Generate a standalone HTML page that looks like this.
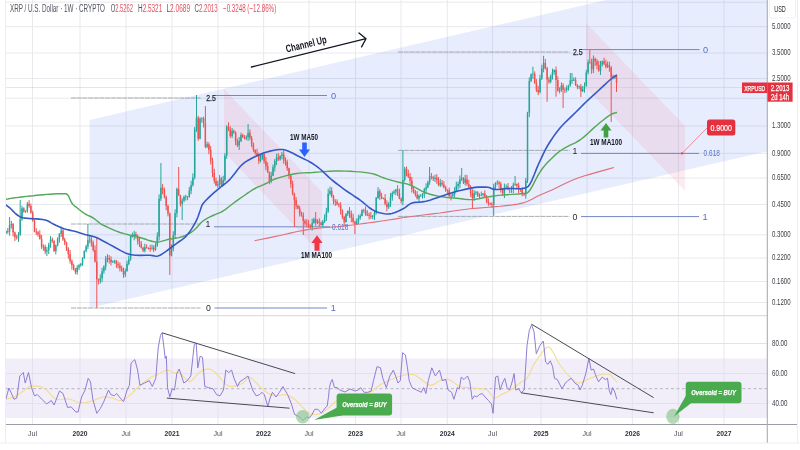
<!DOCTYPE html><html><head><meta charset="utf-8"><style>html,body{margin:0;padding:0;background:#fff;overflow:hidden}</style></head><body><svg width="800" height="450" viewBox="0 0 800 450" style="display:block;will-change:transform;font-family:'Liberation Sans', sans-serif">
<rect width="800" height="450" fill="#ffffff"/>
<path d="M32.5,0 V424.5 M80,0 V424.5 M126,0 V424.5 M172,0 V424.5 M218,0 V424.5 M263.6,0 V424.5 M309,0 V424.5 M355.5,0 V424.5 M401,0 V424.5 M447.3,0 V424.5 M492.6,0 V424.5 M541,0 V424.5 M587,0 V424.5 M632.4,0 V424.5 M678.4,0 V424.5 M724,0 V424.5 M5.5,2.2 H767.5 M5.5,26.7 H767.5 M5.5,53 H767.5 M5.5,78.5 H767.5 M5.5,98.2 H767.5 M5.5,126 H767.5 M5.5,153.3 H767.5 M5.5,178 H767.5 M5.5,204.5 H767.5 M5.5,234.8 H767.5 M5.5,258 H767.5 M5.5,281.5 H767.5 M5.5,302.5 H767.5 M5.5,343.5 H767.5 M5.5,373.5 H767.5 M5.5,403.5 H767.5" stroke="#e8e9ec" stroke-width="1" fill="none"/>
<polygon points="89.5,120 606,0 767,0 767,151.4 89.5,308" fill="rgba(50,95,245,0.115)"/>
<polygon points="224,89 322,192 322,255 224,152" fill="rgba(236,90,115,0.115)"/>
<polygon points="586,23 685,126 685,191 586,88" fill="rgba(236,90,115,0.115)"/>
<path d="M5.5,87.5 H767" stroke="#eeb1b8" stroke-width="0.9" stroke-dasharray="1,1" fill="none"/>
<path d="M71,98 H200.6" stroke="#8e9198" stroke-width="0.75" stroke-dasharray="5,0.7" fill="none"/>
<path d="M71,224 H200.6" stroke="#8e9198" stroke-width="0.75" stroke-dasharray="5,0.7" fill="none"/>
<path d="M71,308 H200.6" stroke="#8e9198" stroke-width="0.75" stroke-dasharray="5,0.7" fill="none"/>
<path d="M214.5,95.5 H327" stroke="#7287c4" stroke-width="1" fill="none"/>
<path d="M214,226.8 H330" stroke="#7287c4" stroke-width="1" fill="none"/>
<path d="M214.5,308 H327" stroke="#7287c4" stroke-width="1" fill="none"/>
<path d="M398,52 H569.6" stroke="#8e9198" stroke-width="0.75" stroke-dasharray="5,0.7" fill="none"/>
<path d="M398,150.4 H569.6" stroke="#8e9198" stroke-width="0.75" stroke-dasharray="5,0.7" fill="none"/>
<path d="M398,216.4 H569.6" stroke="#8e9198" stroke-width="0.75" stroke-dasharray="5,0.7" fill="none"/>
<path d="M582,49.6 H699.6" stroke="#7287c4" stroke-width="1" fill="none"/>
<path d="M581,153.4 H699" stroke="#7287c4" stroke-width="1" fill="none"/>
<path d="M581,216.6 H699" stroke="#7287c4" stroke-width="1" fill="none"/>
<path d="M6.0,230.4V234.0M9.6,217.0V235.7M11.3,220.8V228.7M18.5,232.1V242.0M20.2,200.0V235.8M22.0,205.6V220.8M25.6,210.2V212.9M27.4,202.0V212.7M43.4,244.3V250.7M46.9,246.9V256.0M48.7,242.8V254.0M50.5,236.1V247.7M55.8,244.5V254.5M57.6,237.3V246.4M59.4,233.0V242.7M61.2,226.5V237.0M77.2,265.2V274.7M79.0,263.9V270.1M80.8,263.1V266.8M82.5,257.3V265.8M84.3,250.3V258.8M86.1,244.7V252.4M87.9,224.0V249.1M89.7,236.0V243.3M100.3,274.3V283.6M102.1,267.8V282.1M103.9,265.3V273.8M105.7,255.9V270.2M107.5,254.2V262.3M112.8,260.3V262.9M114.6,259.8V263.6M125.3,268.5V277.0M127.0,260.6V271.8M128.8,255.7V265.3M130.6,235.4V260.8M132.4,232.5V237.6M134.2,230.8V240.3M144.8,243.7V252.4M152.0,244.6V250.1M155.5,243.1V250.7M157.3,232.3V246.8M159.1,194.4V240.6M160.9,163.0V201.1M171.5,244.4V256.4M173.3,231.3V251.3M175.1,209.3V238.4M176.9,187.6V217.4M182.2,198.3V220.0M184.0,195.6V202.4M185.8,194.7V200.6M189.3,186.9V197.7M191.1,180.7V194.1M192.9,173.3V186.6M194.7,127.0V179.5M196.5,95.0V131.8M200.0,117.2V139.4M201.8,117.4V122.7M207.1,141.7V148.0M217.8,180.9V187.8M219.6,175.1V187.4M223.2,175.7V186.2M224.9,153.0V181.7M226.7,125.2V158.8M232.1,128.0V138.1M239.2,137.0V150.0M241.0,132.7V142.2M246.3,135.4V140.1M248.1,124.0V140.9M260.5,154.4V162.4M262.3,152.6V159.9M271.2,171.7V183.2M273.0,164.5V176.2M274.8,159.0V171.5M276.6,153.7V165.0M280.1,155.2V160.6M281.9,152.0V159.3M312.2,218.7V230.5M313.9,217.6V223.7M317.5,219.3V224.2M322.8,219.9V227.2M324.6,214.3V223.0M326.4,207.8V221.0M328.2,188.7V212.8M330.0,186.7V195.6M346.0,212.9V222.7M347.8,210.4V216.1M356.7,218.5V224.9M358.4,214.8V224.0M360.2,213.9V219.8M362.0,209.2V216.4M367.3,210.1V216.1M372.7,215.0V219.2M374.5,210.7V219.9M376.2,196.9V214.7M378.0,187.2V198.8M383.4,197.6V199.3M388.7,202.0V208.9M390.5,193.0V206.8M392.3,191.4V200.7M394.0,189.8V194.6M395.8,188.9V195.1M402.9,150.0V205.4M404.7,166.8V181.5M419.0,194.5V202.2M420.7,194.3V196.5M422.5,193.1V198.5M424.3,187.7V198.2M426.1,183.4V194.0M427.9,180.7V188.2M429.6,167.0V184.8M435.0,174.7V182.0M440.3,178.9V186.9M452.8,191.8V197.4M454.6,187.2V197.5M456.3,181.6V191.9M458.1,181.6V189.8M459.9,175.5V188.1M461.7,168.0V181.1M465.2,174.8V185.6M474.1,190.1V201.0M475.9,190.9V195.0M479.5,193.4V198.6M481.3,191.6V196.2M483.0,193.0V196.5M493.7,183.7V216.0M495.5,182.1V190.0M497.3,180.4V184.9M504.4,183.5V198.1M506.2,184.4V188.7M509.7,187.6V193.0M513.3,182.5V193.1M515.1,176.0V185.8M525.8,177.9V198.7M527.5,111.8V183.0M529.3,77.4V117.1M531.1,73.3V82.2M532.9,66.7V79.0M540.0,74.8V93.4M541.8,64.8V80.0M543.6,55.8V72.3M550.7,74.5V83.3M552.5,68.6V79.6M554.2,69.4V74.7M559.6,87.3V93.5M561.4,82.4V91.9M566.7,85.4V92.3M568.5,84.7V90.6M570.3,73.0V86.7M572.0,73.0V83.9M573.8,77.4V81.1M579.2,85.5V89.2M582.7,86.0V92.0M584.5,82.4V92.7M586.3,69.8V86.5M588.1,59.7V74.4M593.4,55.4V73.0M600.5,60.9V74.9M602.3,60.5V66.4M607.6,61.5V67.9M614.8,75.8V78.9" stroke="#26a69a" stroke-width="1" fill="none"/>
<path d="M7.8,228.0V233.7M13.1,223.0V236.4M14.9,231.7V241.1M16.7,234.8V239.6M23.8,207.2V212.7M29.1,200.2V207.8M30.9,203.6V213.8M32.7,210.7V221.6M34.5,219.5V232.3M36.3,228.3V235.0M38.0,231.0V236.8M39.8,230.2V239.6M41.6,234.9V249.1M45.2,244.7V254.1M52.3,237.4V242.8M54.1,240.2V252.0M63.0,228.8V240.9M64.7,237.7V245.1M66.5,241.6V250.9M68.3,247.1V258.6M70.1,249.9V263.6M71.9,259.5V269.7M73.6,263.6V270.5M75.4,268.0V274.3M91.4,236.1V246.7M93.2,240.6V251.7M95.0,245.4V262.7M96.8,237.0V308.0M98.6,278.6V284.4M109.2,255.1V263.6M111.0,256.3V265.5M116.4,259.9V268.0M118.1,261.4V268.5M119.9,262.5V271.4M121.7,265.7V271.7M123.5,267.5V277.9M135.9,231.8V238.8M137.7,234.4V244.7M139.5,237.9V247.1M141.3,241.1V248.6M143.1,246.7V252.2M146.6,244.4V248.6M148.4,247.3V249.6M150.2,244.9V251.7M153.7,245.2V252.1M162.6,183.9V194.3M164.4,187.6V198.5M166.2,195.6V210.2M168.0,204.6V216.3M169.8,212.4V275.0M178.7,167.0V195.9M180.4,194.8V206.5M187.6,196.0V200.2M198.2,115.8V140.9M203.6,116.6V127.5M205.4,106.0V148.3M208.9,142.2V154.3M210.7,145.9V164.5M212.5,157.7V177.2M214.3,168.7V183.5M216.0,177.4V186.2M221.4,176.9V185.9M228.5,122.4V131.1M230.3,126.5V137.7M233.8,129.6V133.8M235.6,131.3V145.1M237.4,138.5V146.9M242.7,133.7V137.9M244.5,135.2V139.4M249.9,129.3V140.2M251.6,135.9V147.1M253.4,142.5V151.9M255.2,149.3V154.7M257.0,148.8V156.1M258.8,152.6V164.0M264.1,152.0V163.6M265.9,157.0V170.2M267.7,162.3V172.9M269.4,171.6V184.2M278.3,153.1V161.0M283.7,150.3V163.8M285.5,157.3V165.6M287.2,159.7V170.9M289.0,167.6V179.1M290.8,174.1V187.8M292.6,180.6V195.4M294.4,192.7V227.0M296.1,197.1V209.0M297.9,204.8V209.3M299.7,205.9V216.5M301.5,211.6V216.7M303.3,212.4V235.0M305.0,219.2V225.7M306.8,219.1V227.2M308.6,220.0V228.2M310.4,224.4V228.7M315.7,212.0V225.9M319.3,218.3V226.9M321.1,221.3V225.6M331.7,187.3V197.7M333.5,194.9V204.4M335.3,199.2V206.0M337.1,199.3V205.5M338.9,202.8V207.4M340.6,202.1V214.6M342.4,209.3V219.2M344.2,215.8V226.4M349.5,207.1V217.9M351.3,210.5V222.3M353.1,213.6V223.6M354.9,220.6V234.0M363.8,208.7V212.8M365.6,206.5V215.8M369.1,212.5V219.5M370.9,211.9V219.0M379.8,189.1V200.1M381.6,192.8V199.2M385.1,194.1V205.3M386.9,200.3V211.4M397.6,185.2V196.0M399.4,188.7V199.3M401.2,197.3V203.5M406.5,166.6V176.4M408.3,169.7V178.0M410.1,173.0V184.2M411.8,176.9V192.6M413.6,186.1V193.6M415.4,190.1V196.7M417.2,191.1V199.5M431.4,173.0V179.5M433.2,175.7V181.0M436.8,174.2V183.9M438.5,176.9V186.2M442.1,180.0V186.5M443.9,181.0V188.5M445.7,185.7V191.8M447.4,189.2V194.6M449.2,187.7V197.7M451.0,193.8V200.5M463.5,177.1V184.0M467.0,174.9V185.9M468.8,179.9V189.0M470.6,185.2V196.9M472.4,189.1V209.0M477.7,191.2V197.0M484.8,190.3V198.0M486.6,195.0V203.3M488.4,198.3V205.9M490.2,202.5V205.2M491.9,202.2V207.7M499.1,180.8V188.0M500.8,181.9V192.6M502.6,187.9V195.8M508.0,183.0V190.2M511.5,186.0V192.9M516.9,183.4V188.3M518.6,182.6V193.1M520.4,188.1V192.0M522.2,187.0V196.3M524.0,192.7V196.1M534.7,71.4V84.0M536.4,79.1V92.1M538.2,85.9V95.2M545.3,59.1V69.5M547.1,66.9V101.7M548.9,77.1V83.8M556.0,66.5V96.7M557.8,76.3V91.7M563.1,83.2V108.0M564.9,87.5V93.2M575.6,77.3V86.0M577.4,84.1V89.2M580.9,83.9V97.0M589.8,50.0V63.7M591.6,58.7V73.7M595.2,57.5V65.9M597.0,59.0V69.4M598.7,60.9V71.9M604.1,57.7V65.0M605.9,59.8V68.4M609.4,61.7V71.7M611.2,66.2V122.0M613.0,74.7V79.5M616.5,75.3V92.0" stroke="#ef5350" stroke-width="1" fill="none"/>
<path d="M5.25,231.3h1.5V233.3h-1.5ZM8.81,225.0h1.5V231.5h-1.5ZM10.59,223.9h1.5V225.0h-1.5ZM17.71,234.8h1.5V237.8h-1.5ZM19.49,219.3h1.5V234.8h-1.5ZM21.27,208.2h1.5V219.3h-1.5ZM24.83,210.9h1.5V211.7h-1.5ZM26.61,203.7h1.5V210.9h-1.5ZM42.63,246.8h1.5V247.6h-1.5ZM46.19,250.2h1.5V251.6h-1.5ZM47.97,244.7h1.5V250.2h-1.5ZM49.75,239.5h1.5V244.7h-1.5ZM55.09,245.2h1.5V251.0h-1.5ZM56.87,238.8h1.5V245.2h-1.5ZM58.65,233.8h1.5V238.8h-1.5ZM60.43,230.4h1.5V233.8h-1.5ZM76.45,267.6h1.5V272.2h-1.5ZM78.23,265.2h1.5V267.6h-1.5ZM80.01,263.7h1.5V265.2h-1.5ZM81.79,258.2h1.5V263.7h-1.5ZM83.57,251.0h1.5V258.2h-1.5ZM85.35,246.4h1.5V251.0h-1.5ZM87.13,240.2h1.5V246.4h-1.5ZM88.91,239.5h1.5V240.3h-1.5ZM99.59,278.3h1.5V280.6h-1.5ZM101.37,271.2h1.5V278.3h-1.5ZM103.15,266.4h1.5V271.2h-1.5ZM104.93,258.5h1.5V266.4h-1.5ZM106.71,257.9h1.5V258.7h-1.5ZM112.05,261.7h1.5V262.5h-1.5ZM113.83,260.8h1.5V261.7h-1.5ZM124.51,271.0h1.5V274.4h-1.5ZM126.29,263.8h1.5V271.0h-1.5ZM128.07,259.2h1.5V263.8h-1.5ZM129.85,236.2h1.5V259.2h-1.5ZM131.63,235.9h1.5V236.7h-1.5ZM133.41,234.3h1.5V235.9h-1.5ZM144.09,247.2h1.5V250.6h-1.5ZM151.21,247.8h1.5V248.6h-1.5ZM154.77,245.5h1.5V249.7h-1.5ZM156.55,236.4h1.5V245.5h-1.5ZM158.33,198.8h1.5V236.4h-1.5ZM160.11,187.7h1.5V198.8h-1.5ZM170.79,248.8h1.5V255.4h-1.5ZM172.57,235.1h1.5V248.8h-1.5ZM174.35,213.3h1.5V235.1h-1.5ZM176.13,189.1h1.5V213.3h-1.5ZM181.47,200.6h1.5V204.0h-1.5ZM183.25,196.7h1.5V200.6h-1.5ZM185.03,196.5h1.5V197.3h-1.5ZM188.59,190.7h1.5V196.7h-1.5ZM190.37,184.9h1.5V190.7h-1.5ZM192.15,177.4h1.5V184.9h-1.5ZM193.93,129.0h1.5V177.4h-1.5ZM195.71,117.8h1.5V129.0h-1.5ZM199.27,118.8h1.5V138.7h-1.5ZM201.05,118.3h1.5V119.1h-1.5ZM206.39,144.2h1.5V146.7h-1.5ZM217.07,184.3h1.5V185.5h-1.5ZM218.85,178.6h1.5V184.3h-1.5ZM222.41,179.9h1.5V185.2h-1.5ZM224.19,155.4h1.5V179.9h-1.5ZM225.97,126.8h1.5V155.4h-1.5ZM231.31,130.8h1.5V136.0h-1.5ZM238.43,141.1h1.5V145.5h-1.5ZM240.21,135.0h1.5V141.1h-1.5ZM245.55,136.9h1.5V138.5h-1.5ZM247.33,132.8h1.5V136.9h-1.5ZM259.79,158.4h1.5V161.0h-1.5ZM261.57,154.1h1.5V158.4h-1.5ZM270.47,175.7h1.5V180.9h-1.5ZM272.25,167.3h1.5V175.7h-1.5ZM274.03,161.1h1.5V167.3h-1.5ZM275.81,157.5h1.5V161.1h-1.5ZM279.37,156.1h1.5V159.5h-1.5ZM281.15,154.6h1.5V156.1h-1.5ZM311.41,223.1h1.5V227.2h-1.5ZM313.19,219.3h1.5V223.1h-1.5ZM316.75,221.5h1.5V222.7h-1.5ZM322.09,221.7h1.5V225.0h-1.5ZM323.87,217.5h1.5V221.7h-1.5ZM325.65,211.5h1.5V217.5h-1.5ZM327.43,193.8h1.5V211.5h-1.5ZM329.21,191.1h1.5V193.8h-1.5ZM345.23,214.0h1.5V222.0h-1.5ZM347.01,211.1h1.5V214.0h-1.5ZM355.91,221.9h1.5V224.2h-1.5ZM357.69,218.0h1.5V221.9h-1.5ZM359.47,215.9h1.5V218.0h-1.5ZM361.25,210.3h1.5V215.9h-1.5ZM366.59,214.5h1.5V215.3h-1.5ZM371.93,215.7h1.5V216.8h-1.5ZM373.71,212.7h1.5V215.7h-1.5ZM375.49,198.1h1.5V212.7h-1.5ZM377.27,191.3h1.5V198.1h-1.5ZM382.61,198.2h1.5V199.0h-1.5ZM387.95,203.9h1.5V207.3h-1.5ZM389.73,197.3h1.5V203.9h-1.5ZM391.51,193.0h1.5V197.3h-1.5ZM393.29,191.6h1.5V193.0h-1.5ZM395.07,189.4h1.5V191.6h-1.5ZM402.19,179.9h1.5V201.1h-1.5ZM403.97,168.8h1.5V179.9h-1.5ZM418.21,195.8h1.5V198.6h-1.5ZM419.99,195.7h1.5V196.5h-1.5ZM421.77,193.8h1.5V195.7h-1.5ZM423.55,189.5h1.5V193.8h-1.5ZM425.33,187.4h1.5V189.5h-1.5ZM427.11,182.3h1.5V187.4h-1.5ZM428.89,176.3h1.5V182.3h-1.5ZM434.23,177.7h1.5V178.8h-1.5ZM439.57,182.8h1.5V185.2h-1.5ZM452.03,194.3h1.5V196.0h-1.5ZM453.81,191.0h1.5V194.3h-1.5ZM455.59,186.1h1.5V191.0h-1.5ZM457.37,184.0h1.5V186.1h-1.5ZM459.15,179.4h1.5V184.0h-1.5ZM460.93,178.0h1.5V179.4h-1.5ZM464.49,179.2h1.5V182.7h-1.5ZM473.39,193.0h1.5V198.0h-1.5ZM475.17,192.3h1.5V193.1h-1.5ZM478.73,194.9h1.5V195.7h-1.5ZM480.51,194.7h1.5V195.5h-1.5ZM482.29,193.6h1.5V194.7h-1.5ZM492.97,186.7h1.5V205.0h-1.5ZM494.75,183.3h1.5V186.7h-1.5ZM496.53,182.5h1.5V183.3h-1.5ZM503.65,187.4h1.5V193.6h-1.5ZM505.43,186.4h1.5V187.4h-1.5ZM508.99,188.2h1.5V189.0h-1.5ZM512.55,184.7h1.5V189.1h-1.5ZM514.33,183.9h1.5V184.7h-1.5ZM525.01,180.5h1.5V194.5h-1.5ZM526.79,112.8h1.5V180.5h-1.5ZM528.57,81.1h1.5V112.8h-1.5ZM530.35,74.6h1.5V81.1h-1.5ZM532.13,73.8h1.5V74.6h-1.5ZM539.25,78.6h1.5V92.3h-1.5ZM541.03,68.4h1.5V78.6h-1.5ZM542.81,62.9h1.5V68.4h-1.5ZM549.93,75.5h1.5V81.8h-1.5ZM551.71,72.0h1.5V75.5h-1.5ZM553.49,70.1h1.5V72.0h-1.5ZM558.83,90.2h1.5V91.0h-1.5ZM560.61,85.4h1.5V90.2h-1.5ZM565.95,87.7h1.5V90.1h-1.5ZM567.73,85.3h1.5V87.7h-1.5ZM569.51,80.2h1.5V85.3h-1.5ZM571.29,79.9h1.5V80.7h-1.5ZM573.07,79.7h1.5V80.5h-1.5ZM578.41,86.4h1.5V87.2h-1.5ZM581.97,89.1h1.5V91.2h-1.5ZM583.75,85.8h1.5V89.1h-1.5ZM585.53,72.4h1.5V85.8h-1.5ZM587.31,62.2h1.5V72.4h-1.5ZM592.65,58.8h1.5V69.2h-1.5ZM599.77,64.5h1.5V70.7h-1.5ZM601.55,61.2h1.5V64.5h-1.5ZM606.89,65.3h1.5V66.8h-1.5ZM614.01,76.4h1.5V77.7h-1.5Z" fill="#26a69a"/>
<path d="M7.03,231.3h1.5V232.1h-1.5ZM12.37,223.9h1.5V232.5h-1.5ZM14.15,232.5h1.5V237.2h-1.5ZM15.93,237.2h1.5V238.0h-1.5ZM23.05,208.2h1.5V211.6h-1.5ZM28.39,203.7h1.5V206.1h-1.5ZM30.17,206.1h1.5V212.6h-1.5ZM31.95,212.6h1.5V221.0h-1.5ZM33.73,221.0h1.5V231.8h-1.5ZM35.51,231.8h1.5V232.6h-1.5ZM37.29,232.3h1.5V234.4h-1.5ZM39.07,234.4h1.5V238.7h-1.5ZM40.85,238.7h1.5V246.9h-1.5ZM44.41,246.8h1.5V251.6h-1.5ZM51.53,239.5h1.5V240.9h-1.5ZM53.31,240.9h1.5V251.0h-1.5ZM62.21,230.4h1.5V239.4h-1.5ZM63.99,239.4h1.5V242.7h-1.5ZM65.77,242.7h1.5V248.6h-1.5ZM67.55,248.6h1.5V254.3h-1.5ZM69.33,254.3h1.5V261.0h-1.5ZM71.11,261.0h1.5V265.3h-1.5ZM72.89,265.3h1.5V268.5h-1.5ZM74.67,268.5h1.5V272.2h-1.5ZM90.69,239.5h1.5V242.7h-1.5ZM92.47,242.7h1.5V249.9h-1.5ZM94.25,249.9h1.5V261.6h-1.5ZM96.03,261.6h1.5V279.2h-1.5ZM97.81,279.2h1.5V280.6h-1.5ZM108.49,257.9h1.5V259.5h-1.5ZM110.27,259.5h1.5V262.3h-1.5ZM115.61,260.8h1.5V264.1h-1.5ZM117.39,264.1h1.5V265.5h-1.5ZM119.17,265.5h1.5V268.2h-1.5ZM120.95,268.2h1.5V271.2h-1.5ZM122.73,271.2h1.5V274.4h-1.5ZM135.19,234.3h1.5V236.8h-1.5ZM136.97,236.8h1.5V241.4h-1.5ZM138.75,241.4h1.5V244.1h-1.5ZM140.53,244.1h1.5V247.8h-1.5ZM142.31,247.8h1.5V250.6h-1.5ZM145.87,247.2h1.5V248.0h-1.5ZM147.65,248.0h1.5V248.8h-1.5ZM149.43,248.1h1.5V248.9h-1.5ZM152.99,247.8h1.5V249.7h-1.5ZM161.89,187.7h1.5V189.9h-1.5ZM163.67,189.9h1.5V196.9h-1.5ZM165.45,196.9h1.5V205.9h-1.5ZM167.23,205.9h1.5V213.5h-1.5ZM169.01,213.5h1.5V255.4h-1.5ZM177.91,189.1h1.5V195.3h-1.5ZM179.69,195.3h1.5V204.0h-1.5ZM186.81,196.5h1.5V197.3h-1.5ZM197.49,117.8h1.5V138.7h-1.5ZM202.83,118.3h1.5V123.3h-1.5ZM204.61,123.3h1.5V146.7h-1.5ZM208.17,144.2h1.5V150.0h-1.5ZM209.95,150.0h1.5V160.7h-1.5ZM211.73,160.7h1.5V173.0h-1.5ZM213.51,173.0h1.5V180.8h-1.5ZM215.29,180.8h1.5V185.5h-1.5ZM220.63,178.6h1.5V185.2h-1.5ZM227.75,126.8h1.5V129.6h-1.5ZM229.53,129.6h1.5V136.0h-1.5ZM233.09,130.8h1.5V132.6h-1.5ZM234.87,132.6h1.5V140.9h-1.5ZM236.65,140.9h1.5V145.5h-1.5ZM241.99,135.0h1.5V137.0h-1.5ZM243.77,137.0h1.5V138.5h-1.5ZM249.11,132.8h1.5V138.0h-1.5ZM250.89,138.0h1.5V144.5h-1.5ZM252.67,144.5h1.5V150.1h-1.5ZM254.45,150.1h1.5V153.1h-1.5ZM256.23,153.1h1.5V155.1h-1.5ZM258.01,155.1h1.5V161.0h-1.5ZM263.35,154.1h1.5V161.3h-1.5ZM265.13,161.3h1.5V166.3h-1.5ZM266.91,166.3h1.5V172.3h-1.5ZM268.69,172.3h1.5V180.9h-1.5ZM277.59,157.5h1.5V159.5h-1.5ZM282.93,154.6h1.5V160.4h-1.5ZM284.71,160.4h1.5V162.0h-1.5ZM286.49,162.0h1.5V168.2h-1.5ZM288.27,168.2h1.5V175.5h-1.5ZM290.05,175.5h1.5V183.7h-1.5ZM291.83,183.7h1.5V193.7h-1.5ZM293.61,193.7h1.5V200.1h-1.5ZM295.39,200.1h1.5V205.7h-1.5ZM297.17,205.7h1.5V208.5h-1.5ZM298.95,208.5h1.5V213.6h-1.5ZM300.73,213.6h1.5V215.4h-1.5ZM302.51,215.4h1.5V220.9h-1.5ZM304.29,220.9h1.5V223.4h-1.5ZM306.07,223.4h1.5V224.2h-1.5ZM307.85,224.1h1.5V225.8h-1.5ZM309.63,225.8h1.5V227.2h-1.5ZM314.97,219.3h1.5V222.7h-1.5ZM318.53,221.5h1.5V222.7h-1.5ZM320.31,222.7h1.5V225.0h-1.5ZM330.99,191.1h1.5V196.3h-1.5ZM332.77,196.3h1.5V200.9h-1.5ZM334.55,200.9h1.5V201.7h-1.5ZM336.33,201.7h1.5V204.2h-1.5ZM338.11,204.2h1.5V205.2h-1.5ZM339.89,205.2h1.5V210.3h-1.5ZM341.67,210.3h1.5V217.1h-1.5ZM343.45,217.1h1.5V222.0h-1.5ZM348.79,211.1h1.5V213.9h-1.5ZM350.57,213.9h1.5V217.8h-1.5ZM352.35,217.8h1.5V221.8h-1.5ZM354.13,221.8h1.5V224.2h-1.5ZM363.03,210.3h1.5V211.1h-1.5ZM364.81,210.9h1.5V214.8h-1.5ZM368.37,214.5h1.5V215.7h-1.5ZM370.15,215.7h1.5V216.8h-1.5ZM379.05,191.3h1.5V196.4h-1.5ZM380.83,196.4h1.5V198.5h-1.5ZM384.39,198.2h1.5V203.8h-1.5ZM386.17,203.8h1.5V207.3h-1.5ZM396.85,189.4h1.5V193.0h-1.5ZM398.63,193.0h1.5V198.7h-1.5ZM400.41,198.7h1.5V201.1h-1.5ZM405.75,168.8h1.5V173.9h-1.5ZM407.53,173.9h1.5V176.7h-1.5ZM409.31,176.7h1.5V180.7h-1.5ZM411.09,180.7h1.5V189.0h-1.5ZM412.87,189.0h1.5V191.8h-1.5ZM414.65,191.8h1.5V194.7h-1.5ZM416.43,194.7h1.5V198.6h-1.5ZM430.67,176.3h1.5V177.2h-1.5ZM432.45,177.2h1.5V178.8h-1.5ZM436.01,177.7h1.5V180.0h-1.5ZM437.79,180.0h1.5V185.2h-1.5ZM441.35,182.8h1.5V184.5h-1.5ZM443.13,184.5h1.5V187.2h-1.5ZM444.91,187.2h1.5V190.3h-1.5ZM446.69,190.3h1.5V191.1h-1.5ZM448.47,190.6h1.5V195.9h-1.5ZM450.25,195.9h1.5V196.7h-1.5ZM462.71,178.0h1.5V182.7h-1.5ZM466.27,179.2h1.5V183.9h-1.5ZM468.05,183.9h1.5V186.7h-1.5ZM469.83,186.7h1.5V193.3h-1.5ZM471.61,193.3h1.5V198.0h-1.5ZM476.95,192.3h1.5V195.7h-1.5ZM484.07,193.6h1.5V196.7h-1.5ZM485.85,196.7h1.5V202.0h-1.5ZM487.63,202.0h1.5V203.2h-1.5ZM489.41,203.2h1.5V204.2h-1.5ZM491.19,204.2h1.5V205.0h-1.5ZM498.31,182.5h1.5V183.7h-1.5ZM500.09,183.7h1.5V189.8h-1.5ZM501.87,189.8h1.5V193.6h-1.5ZM507.21,186.4h1.5V188.9h-1.5ZM510.77,188.2h1.5V189.1h-1.5ZM516.11,183.9h1.5V185.6h-1.5ZM517.89,185.6h1.5V189.0h-1.5ZM519.67,189.0h1.5V189.8h-1.5ZM521.45,189.0h1.5V193.8h-1.5ZM523.23,193.8h1.5V194.6h-1.5ZM533.91,73.8h1.5V83.3h-1.5ZM535.69,83.3h1.5V90.0h-1.5ZM537.47,90.0h1.5V92.3h-1.5ZM544.59,62.9h1.5V68.3h-1.5ZM546.37,68.3h1.5V79.7h-1.5ZM548.15,79.7h1.5V81.8h-1.5ZM555.27,70.1h1.5V80.1h-1.5ZM557.05,80.1h1.5V90.8h-1.5ZM562.39,85.4h1.5V89.7h-1.5ZM564.17,89.7h1.5V90.5h-1.5ZM574.85,79.7h1.5V85.1h-1.5ZM576.63,85.1h1.5V87.0h-1.5ZM580.19,86.4h1.5V91.2h-1.5ZM589.09,62.2h1.5V63.0h-1.5ZM590.87,62.6h1.5V69.2h-1.5ZM594.43,58.8h1.5V61.5h-1.5ZM596.21,61.5h1.5V65.1h-1.5ZM597.99,65.1h1.5V70.7h-1.5ZM603.33,61.2h1.5V63.8h-1.5ZM605.11,63.8h1.5V66.8h-1.5ZM608.67,65.3h1.5V67.5h-1.5ZM610.45,67.5h1.5V77.2h-1.5ZM612.23,77.2h1.5V78.0h-1.5ZM615.79,76.4h1.5V82.4h-1.5Z" fill="#ef5350"/>
<path d="M254.5,240.8 L259.2,239.8 L266.0,238.4 L273.4,236.9 L280.0,235.5 L285.4,234.3 L290.3,233.1 L295.1,232.0 L300.0,231.0 L305.0,230.1 L310.0,229.3 L315.0,228.6 L320.0,228.0 L325.0,227.5 L330.0,227.2 L335.0,226.9 L340.0,226.5 L345.0,225.9 L350.0,225.3 L355.0,224.7 L360.0,224.0 L364.8,223.4 L369.4,222.8 L374.3,222.1 L380.0,221.3 L386.8,220.3 L394.4,219.1 L402.3,217.8 L410.0,216.7 L417.5,215.7 L425.0,214.8 L432.5,213.9 L440.0,213.0 L447.5,211.9 L455.0,210.8 L462.5,209.7 L470.0,208.8 L477.7,208.1 L485.4,207.5 L493.0,206.9 L500.0,206.3 L506.4,205.6 L512.3,204.9 L517.8,204.1 L523.0,202.9 L527.7,201.2 L532.0,199.2 L536.0,197.1 L540.0,195.1 L543.7,193.5 L547.1,192.0 L550.7,190.4 L555.0,188.5 L559.9,186.1 L565.2,183.5 L571.1,180.7 L578.0,178.0 L586.9,175.1 L597.4,172.1 L607.2,169.4 L614.0,167.5" stroke="#e0707a" stroke-width="1.1" fill="none"/>
<path d="M6.0,199.3 L7.2,199.1 L8.8,198.8 L10.9,198.4 L13.3,198.0 L16.2,197.6 L19.6,197.2 L23.2,196.8 L26.7,196.4 L30.0,196.0 L33.4,195.7 L36.7,195.3 L40.0,195.0 L43.4,194.7 L46.8,194.4 L50.2,194.2 L53.3,194.0 L56.3,193.8 L59.2,193.7 L61.9,193.6 L64.0,193.7 L65.5,193.8 L66.4,194.0 L67.2,194.4 L68.0,195.3 L69.0,196.9 L69.9,199.1 L70.9,201.4 L72.0,203.3 L73.2,204.7 L74.4,205.8 L75.8,206.8 L77.3,208.0 L79.1,209.5 L81.1,211.0 L83.2,212.6 L85.3,214.0 L87.3,215.1 L89.4,216.0 L91.4,217.0 L93.3,218.0 L95.1,219.3 L96.8,220.7 L98.5,222.1 L100.0,223.3 L101.1,224.1 L102.0,224.6 L103.1,225.1 L105.0,226.0 L107.9,227.4 L111.6,229.1 L115.7,230.9 L120.0,232.5 L124.9,233.9 L130.3,235.2 L135.6,236.4 L140.0,237.5 L143.2,238.5 L145.8,239.3 L147.9,240.1 L150.0,240.7 L152.1,241.3 L154.0,241.7 L155.9,242.0 L158.0,242.0 L160.4,241.6 L163.0,240.9 L165.8,240.1 L168.7,239.3 L171.9,238.7 L175.3,238.2 L178.8,237.6 L182.0,236.7 L184.9,235.6 L187.7,234.3 L190.4,232.8 L193.0,231.0 L195.6,228.7 L198.1,226.0 L200.5,223.3 L203.0,221.0 L205.5,219.3 L208.0,217.9 L210.5,216.7 L213.0,215.5 L215.5,214.4 L218.0,213.4 L220.5,212.3 L223.0,211.0 L225.5,209.4 L227.9,207.5 L230.4,205.5 L233.0,203.5 L235.9,201.4 L239.0,199.2 L242.1,197.0 L245.0,195.0 L247.6,193.2 L250.1,191.5 L252.5,189.9 L255.0,188.5 L257.5,187.2 L260.0,186.2 L262.5,185.1 L265.0,184.0 L267.3,182.8 L269.4,181.5 L271.8,180.3 L275.0,179.0 L279.4,177.6 L284.5,176.1 L289.9,174.7 L295.0,173.7 L299.4,173.1 L303.6,172.9 L307.8,172.7 L312.5,172.5 L317.8,172.1 L323.6,171.6 L329.4,171.2 L335.0,171.0 L340.2,171.0 L345.3,171.1 L350.3,171.3 L355.0,171.6 L359.6,171.9 L364.0,172.4 L368.2,172.9 L372.0,173.6 L375.3,174.5 L378.2,175.7 L381.0,176.9 L384.0,178.0 L387.4,179.1 L391.0,180.1 L394.6,181.1 L398.0,182.0 L401.0,182.7 L403.9,183.3 L406.8,183.9 L410.0,185.0 L413.7,186.7 L417.8,188.9 L421.9,191.1 L426.0,192.9 L430.0,194.2 L434.1,195.3 L438.1,196.1 L442.0,196.8 L445.8,197.3 L449.6,197.7 L453.3,198.0 L457.0,198.3 L460.8,198.7 L464.6,199.2 L468.4,199.5 L472.0,199.6 L475.4,199.3 L478.7,198.7 L482.0,198.0 L485.5,197.4 L489.1,196.8 L492.7,196.2 L496.6,195.6 L501.0,195.1 L506.4,194.7 L512.5,194.4 L518.4,194.0 L523.0,193.5 L525.7,193.2 L527.1,193.0 L528.2,192.2 L530.0,190.0 L532.5,185.9 L535.3,180.4 L538.5,174.4 L542.0,169.0 L546.0,164.1 L550.5,159.4 L555.2,154.9 L560.0,151.0 L565.0,147.8 L570.1,145.2 L575.2,142.8 L580.0,140.0 L584.3,136.6 L588.4,133.0 L592.2,129.4 L596.0,126.0 L599.8,122.8 L603.6,119.8 L607.0,117.1 L610.0,115.0 L612.4,113.7 L614.4,113.0 L615.9,112.7 L617.0,112.4" stroke="#55a857" stroke-width="1.45" fill="none" stroke-linejoin="round"/>
<path d="M5.6,204.7 L6.5,205.4 L7.8,206.4 L9.3,207.5 L10.7,208.7 L12.0,210.0 L13.3,211.4 L14.7,212.8 L16.0,214.0 L17.3,215.0 L18.6,215.9 L20.0,216.7 L21.3,217.3 L22.6,217.7 L23.9,218.0 L25.3,218.1 L26.7,218.3 L28.1,218.4 L29.6,218.5 L31.2,218.6 L33.3,218.7 L36.0,218.9 L39.2,219.1 L42.5,219.5 L45.3,220.0 L47.5,220.8 L49.4,221.8 L51.2,222.9 L53.3,224.0 L55.8,225.2 L58.5,226.4 L61.3,227.7 L64.0,228.7 L66.7,229.5 L69.4,230.1 L72.1,230.7 L74.7,231.3 L77.3,232.1 L80.0,232.9 L82.6,233.8 L85.0,234.5 L87.3,235.1 L89.4,235.5 L91.4,236.0 L93.3,236.5 L95.0,237.1 L96.4,237.6 L98.0,238.3 L100.0,239.3 L102.6,240.7 L105.6,242.3 L108.9,244.1 L112.5,246.0 L116.5,248.2 L120.8,250.6 L125.3,252.9 L130.0,254.5 L135.1,255.2 L140.6,255.4 L145.8,255.3 L150.0,255.3 L152.8,255.6 L154.8,256.0 L156.3,256.2 L158.0,256.0 L159.9,255.3 L161.8,254.2 L163.8,252.8 L166.0,251.3 L168.5,249.5 L171.2,247.5 L174.0,245.4 L176.7,243.3 L179.3,241.5 L181.8,239.8 L184.3,237.9 L186.7,235.6 L189.1,232.6 L191.5,229.1 L193.7,225.5 L195.6,222.2 L197.0,219.2 L198.2,216.2 L199.1,213.5 L200.0,211.0 L200.7,208.9 L201.3,207.1 L202.0,205.3 L203.3,203.3 L205.5,200.8 L208.4,197.9 L211.3,195.1 L214.0,192.7 L216.2,190.8 L218.2,189.1 L220.1,187.6 L222.0,186.0 L223.9,184.5 L225.8,183.1 L227.8,181.4 L230.0,179.3 L232.5,176.3 L235.3,172.7 L238.1,169.0 L240.7,166.0 L243.0,163.9 L245.1,162.2 L247.3,160.8 L250.0,159.3 L253.3,157.5 L257.1,155.7 L261.1,153.9 L265.0,152.5 L268.9,151.4 L272.9,150.5 L276.7,149.8 L280.0,149.5 L282.4,149.5 L284.2,149.7 L285.9,150.2 L288.0,151.0 L290.8,152.2 L293.9,153.8 L297.0,155.5 L300.0,157.0 L302.6,158.3 L305.1,159.4 L307.5,160.6 L310.0,162.0 L312.5,163.5 L314.9,165.1 L317.4,166.9 L320.0,169.0 L322.8,171.4 L325.6,174.2 L328.7,177.1 L332.0,180.0 L335.8,183.0 L340.0,186.2 L344.2,189.3 L348.0,192.0 L351.3,194.2 L354.2,196.2 L357.1,198.0 L360.0,200.0 L363.0,202.4 L366.1,205.0 L369.1,207.5 L372.0,209.5 L374.6,210.9 L377.1,212.0 L379.5,212.7 L382.0,213.3 L384.5,213.7 L386.9,214.0 L389.4,213.9 L392.0,213.5 L395.0,212.6 L398.1,211.2 L401.2,209.7 L404.0,208.3 L406.1,206.9 L407.9,205.4 L409.7,204.1 L412.0,203.0 L415.0,202.4 L418.5,202.2 L422.2,201.9 L426.0,201.3 L429.9,200.2 L433.9,198.8 L438.0,197.4 L442.0,196.0 L445.8,194.8 L449.4,193.6 L453.1,192.4 L457.0,191.3 L461.4,190.2 L466.1,189.1 L470.8,188.1 L475.0,187.4 L478.7,187.1 L482.2,187.0 L485.3,187.1 L488.0,187.3 L490.0,187.8 L491.4,188.5 L492.9,189.1 L495.0,189.5 L498.0,189.5 L501.6,189.1 L505.4,188.8 L509.0,188.5 L512.6,188.5 L516.2,188.7 L519.6,188.8 L522.5,188.5 L524.8,188.1 L526.5,187.6 L528.2,186.4 L530.0,184.0 L532.1,179.8 L534.4,174.3 L536.7,168.4 L539.0,163.0 L541.2,158.3 L543.3,153.8 L545.5,149.4 L548.0,145.0 L550.7,140.7 L553.6,136.4 L556.6,132.2 L560.0,128.0 L563.9,123.8 L568.1,119.6 L572.3,115.6 L576.0,112.0 L578.9,109.1 L581.2,106.7 L583.5,104.4 L586.0,102.0 L588.8,99.3 L591.8,96.6 L594.9,93.8 L598.0,91.0 L601.3,87.9 L604.9,84.6 L608.2,81.5 L611.0,79.0 L613.1,77.3 L614.8,76.2 L616.1,75.5 L617.0,75.0" stroke="#3559c4" stroke-width="1.6" fill="none" stroke-linejoin="round"/>
<text x="206.2" y="101.2" font-size="8.7" fill="#1e222d" text-anchor="start" font-weight="normal" textLength="9.6" lengthAdjust="spacingAndGlyphs" stroke="#1e222d" stroke-width="0.25" style="">2.5</text>
<text x="208" y="227.1" font-size="8.7" fill="#1e222d" text-anchor="middle" font-weight="normal"  style="">1</text>
<text x="208.5" y="311.1" font-size="8.7" fill="#1e222d" text-anchor="middle" font-weight="normal"  style="">0</text>
<text x="333.6" y="98.8" font-size="9.2" fill="#5670c4" text-anchor="middle" font-weight="normal"  style="">0</text>
<text x="332" y="230.2" font-size="9.2" fill="#5670c4" text-anchor="start" font-weight="normal" textLength="16.3" lengthAdjust="spacingAndGlyphs"  style="">0.618</text>
<text x="333.4" y="311.3" font-size="9.2" fill="#5670c4" text-anchor="middle" font-weight="normal"  style="">1</text>
<text x="573" y="55.2" font-size="8.7" fill="#1e222d" text-anchor="start" font-weight="normal" textLength="9.6" lengthAdjust="spacingAndGlyphs" stroke="#1e222d" stroke-width="0.25" style="">2.5</text>
<text x="575" y="153.5" font-size="8.7" fill="#1e222d" text-anchor="middle" font-weight="normal"  style="">1</text>
<text x="575" y="219.7" font-size="8.7" fill="#1e222d" text-anchor="middle" font-weight="normal"  style="">0</text>
<text x="705.6" y="52.9" font-size="9.2" fill="#5670c4" text-anchor="middle" font-weight="normal"  style="">0</text>
<text x="703.6" y="155.5" font-size="9.2" fill="#5670c4" text-anchor="start" font-weight="normal" textLength="16.3" lengthAdjust="spacingAndGlyphs"  style="">0.618</text>
<text x="705" y="219.9" font-size="9.2" fill="#5670c4" text-anchor="middle" font-weight="normal"  style="">1</text>
<path d="M251.4,67 L366,38.7 M359,32.9 L366,38.7 L361.6,46.9" stroke="#131722" stroke-width="1.3" fill="none" stroke-linecap="round" stroke-linejoin="round"/>
<text x="0" y="0" font-size="10.5" font-weight="bold" fill="#131722" transform="translate(286.8,52.6) rotate(-13.8)" textLength="41.5" lengthAdjust="spacingAndGlyphs">Channel Up</text>
<text x="304" y="139.8" font-size="9" fill="#131722" text-anchor="middle" font-weight="bold" textLength="28" lengthAdjust="spacingAndGlyphs"  style="">1W MA50</text>
<path d="M302.2,142.5 h4.6 v7 h3.2 l-5.5,7.5 l-5.5,-7.5 h3.2 z" fill="#2962ff"/>
<path d="M317,235.2 l5.6,7.8 h-3.1 v7.8 h-5 v-7.8 h-3.1 z" fill="#f23645"/>
<text x="316.5" y="258.4" font-size="9" fill="#131722" text-anchor="middle" font-weight="bold" textLength="31" lengthAdjust="spacingAndGlyphs"  style="">1M MA100</text>
<path d="M606,123 l5.5,7.5 h-3.2 v7 h-4.6 v-7 h-3.2 z" fill="#43a047"/>
<text x="606" y="144.8" font-size="9" fill="#131722" text-anchor="middle" font-weight="bold" textLength="32" lengthAdjust="spacingAndGlyphs"  style="">1W MA100</text>
<path d="M682,153.4 L707,128" stroke="#e8808c" stroke-width="0.9" fill="none"/>
<circle cx="682" cy="153.4" r="1.1" fill="#e5414f"/>
<rect x="707" y="119.5" width="28.3" height="16" rx="2.5" fill="#e5303f"/>
<text x="721.2" y="130.8" font-size="9" fill="#ffffff" text-anchor="middle" font-weight="normal" textLength="21.5" lengthAdjust="spacingAndGlyphs" stroke="#fff" stroke-width="0.2" style="">0.9000</text>
<rect x="5.5" y="358.5" width="762" height="59.5" fill="#f1eefa"/>
<path d="M32.5,358.5 V418 M80,358.5 V418 M126,358.5 V418 M172,358.5 V418 M218,358.5 V418 M263.6,358.5 V418 M309,358.5 V418 M355.5,358.5 V418 M401,358.5 V418 M447.3,358.5 V418 M492.6,358.5 V418 M541,358.5 V418 M587,358.5 V418 M632.4,358.5 V418 M678.4,358.5 V418 M724,358.5 V418 M5.5,343.5 H767.5 M5.5,373.5 H767.5 M5.5,403.5 H767.5" stroke="#e4e1ee" stroke-width="1" fill="none"/>
<path d="M5.5,388.7 H767" stroke="#a8a6b3" stroke-width="0.8" stroke-dasharray="3,2.5" fill="none"/>
<path d="M5.8,399.3 L7.9,398.8 L10.9,398.1 L14.0,397.0 L17.1,395.2 L20.3,393.0 L23.3,391.0 L25.7,389.2 L27.9,387.6 L30.3,386.5 L33.3,386.0 L36.6,386.1 L39.6,386.5 L42.0,387.2 L44.2,388.3 L46.6,390.0 L49.5,393.0 L52.6,396.7 L56.0,399.3 L59.6,399.7 L63.5,399.0 L67.6,398.8 L72.2,400.0 L77.0,401.8 L81.6,402.8 L85.8,402.5 L89.7,401.6 L93.3,400.5 L96.6,399.3 L99.6,397.9 L102.6,397.0 L105.7,396.9 L108.9,397.4 L112.0,398.0 L115.1,399.0 L118.2,400.2 L121.3,400.5 L124.4,399.3 L127.5,397.1 L130.6,394.6 L133.6,391.7 L136.7,388.5 L140.0,385.3 L143.9,382.2 L148.1,379.3 L151.6,377.0 L153.7,375.9 L155.1,375.5 L157.0,374.8 L159.9,373.1 L163.2,371.2 L166.3,370.0 L168.8,370.3 L171.1,371.5 L173.3,372.5 L175.5,372.7 L177.8,372.8 L180.3,373.6 L183.3,376.5 L186.5,380.1 L189.7,381.8 L192.8,379.8 L195.9,375.8 L199.0,372.5 L202.2,370.6 L205.4,369.4 L208.3,369.0 L210.7,369.4 L212.9,370.6 L215.3,372.5 L218.3,375.7 L221.6,379.8 L224.6,383.0 L226.9,384.9 L229.0,386.1 L231.6,386.5 L235.4,385.9 L239.7,384.6 L243.3,383.0 L245.6,380.7 L247.2,378.1 L249.1,377.0 L251.6,378.3 L254.4,381.1 L257.3,384.0 L260.3,386.8 L263.5,389.8 L266.6,392.3 L269.7,394.0 L272.9,395.2 L276.0,395.8 L279.1,395.5 L282.2,394.7 L285.3,394.6 L288.4,395.6 L291.5,397.2 L294.6,399.3 L297.8,402.2 L301.1,405.7 L303.9,408.6 L305.9,410.6 L307.5,412.2 L309.3,413.3 L311.5,414.1 L313.9,414.5 L316.3,414.5 L318.6,414.1 L321.0,413.3 L323.3,412.1 L325.6,410.4 L328.0,408.4 L330.3,406.3 L332.4,404.3 L334.5,402.3 L337.3,400.5 L341.2,398.8 L345.8,397.3 L350.0,396.0 L353.5,395.1 L356.8,394.6 L360.0,394.0 L363.4,393.6 L366.7,393.2 L370.0,392.3 L373.2,390.3 L376.2,387.7 L379.3,385.3 L382.4,383.5 L385.5,382.0 L388.6,380.6 L391.7,379.3 L394.9,378.1 L398.0,377.0 L401.2,376.1 L404.4,375.3 L407.3,374.8 L409.8,374.5 L412.1,374.4 L414.3,374.8 L416.5,376.0 L418.8,377.7 L421.3,379.5 L424.2,381.7 L427.4,384.1 L430.6,385.3 L433.7,384.4 L436.9,382.3 L440.0,380.6 L443.1,379.7 L446.2,379.1 L449.3,379.5 L452.6,381.5 L456.0,384.3 L459.3,386.5 L462.4,387.3 L465.4,387.4 L468.7,387.6 L472.6,388.0 L476.7,388.4 L480.3,388.8 L483.0,388.9 L485.1,389.1 L487.3,390.0 L489.6,392.6 L492.0,396.0 L494.3,398.1 L496.5,397.8 L498.8,396.3 L501.3,394.6 L504.2,393.2 L507.4,391.8 L510.6,390.0 L513.8,387.8 L517.0,385.3 L520.0,383.0 L522.5,381.6 L524.8,380.5 L527.0,378.3 L529.3,374.2 L531.6,369.1 L534.0,364.3 L536.7,360.0 L539.5,356.1 L542.1,352.7 L544.3,349.9 L546.2,347.8 L548.0,346.8 L549.5,347.3 L550.9,348.9 L552.6,351.5 L554.7,355.2 L557.0,359.8 L559.6,364.3 L562.6,368.5 L565.8,372.5 L569.0,376.0 L572.1,379.1 L575.2,381.6 L578.3,383.0 L581.3,382.6 L584.4,381.1 L587.6,379.5 L591.2,378.0 L595.0,376.4 L598.6,375.2 L602.0,374.4 L605.3,374.0 L608.0,374.0 L609.9,374.6 L611.2,375.7 L612.6,377.1 L614.3,378.9 L616.1,381.0 L617.3,382.5" stroke="#f4dc8c" stroke-width="1.1" fill="none"/>
<path d="M5.8,399.3 L8.9,388.0 L11.7,394.0 L14.0,399.3 L16.8,398.0 L19.8,376.0 L23.3,372.5 L25.2,383.0 L28.5,372.5 L31.5,387.6 L34.5,395.8 L37.3,394.6 L42.0,399.3 L46.6,404.0 L51.3,400.5 L54.1,405.0 L59.5,391.0 L63.0,393.5 L67.6,407.5 L71.1,406.8 L75.8,412.0 L78.1,412.0 L81.6,397.0 L85.1,390.0 L88.2,378.3 L90.5,381.8 L92.8,399.3 L96.8,413.3 L100.3,408.6 L103.8,401.6 L108.5,390.0 L110.8,394.6 L114.3,395.8 L116.6,393.5 L121.3,399.3 L123.6,401.6 L127.1,390.0 L129.4,385.3 L131.1,363.1 L134.8,359.6 L137.6,370.1 L139.9,385.3 L144.6,383.0 L149.3,380.6 L152.3,386.5 L155.8,378.3 L158.2,348.0 L160.5,335.2 L162.1,332.8 L164.0,348.0 L165.2,358.5 L166.3,356.0 L167.5,387.6 L169.8,397.0 L172.2,388.8 L174.5,390.0 L176.8,373.6 L179.2,369.0 L181.5,376.0 L183.8,383.0 L187.3,380.6 L190.8,376.0 L194.3,344.5 L196.2,343.3 L197.8,367.8 L200.1,356.2 L202.5,357.3 L204.8,386.5 L208.3,387.6 L213.0,388.8 L216.5,394.6 L220.0,395.8 L223.5,390.0 L225.8,370.1 L228.8,372.5 L231.6,370.1 L234.0,378.3 L237.5,386.5 L239.8,381.8 L243.3,379.5 L248.0,376.0 L252.6,390.0 L256.1,395.8 L259.6,394.6 L262.0,392.3 L264.3,394.6 L267.8,406.3 L270.1,398.1 L272.4,392.3 L276.0,397.0 L279.4,392.3 L282.9,386.5 L287.6,394.6 L291.1,403.0 L294.6,414.5 L299.0,416.5 L302.9,420.4 L306.8,417.0 L309.4,417.8 L312.0,414.5 L314.7,409.3 L318.0,409.3 L321.3,413.2 L325.2,408.0 L327.2,406.0 L328.5,396.8 L329.4,387.6 L330.5,383.0 L332.2,379.5 L334.5,387.6 L337.3,387.6 L339.7,390.0 L345.0,392.0 L350.0,389.0 L355.0,391.0 L358.3,390.0 L360.6,387.6 L364.1,392.3 L367.6,392.3 L371.1,391.1 L373.5,380.6 L377.0,366.6 L380.5,367.8 L382.8,378.3 L386.3,387.6 L389.8,376.0 L393.3,370.1 L395.6,376.0 L398.0,383.0 L400.3,380.6 L402.6,352.7 L405.4,355.0 L407.3,366.6 L409.2,380.6 L412.0,387.6 L416.6,390.0 L421.3,392.3 L423.6,387.6 L425.9,393.5 L428.3,380.6 L431.8,367.8 L435.3,376.0 L439.5,370.1 L442.3,380.6 L445.8,379.5 L448.1,390.0 L451.6,392.3 L453.9,399.3 L457.4,387.6 L459.3,388.8 L461.2,377.1 L464.0,379.5 L467.5,376.0 L469.8,381.8 L472.2,399.3 L474.5,395.8 L476.8,397.0 L479.2,394.6 L482.2,393.5 L485.0,397.0 L488.5,400.5 L491.5,404.0 L493.1,413.3 L495.5,377.1 L497.8,376.0 L500.1,390.0 L502.5,383.0 L504.8,378.3 L507.1,387.6 L509.5,390.0 L511.8,383.0 L514.1,373.6 L515.8,390.0 L518.8,388.8 L521.1,392.8 L524.2,390.0 L527.0,345.7 L529.3,330.5 L531.6,324.7 L534.0,331.7 L536.3,353.8 L539.8,345.7 L543.3,341.0 L545.6,362.0 L548.0,364.3 L550.3,360.8 L552.6,366.6 L554.5,378.3 L557.3,379.5 L559.6,384.1 L562.0,388.8 L565.5,383.0 L567.8,380.6 L571.3,378.3 L574.8,383.0 L578.3,385.3 L580.0,390.0 L582.3,385.3 L585.8,373.6 L588.9,358.5 L591.2,370.1 L593.5,369.0 L595.9,376.0 L598.6,381.8 L602.1,377.1 L605.2,379.5 L607.5,378.3 L609.1,390.0 L610.8,394.6 L612.6,387.6 L614.9,392.3 L616.8,399.3" stroke="#8a76d0" stroke-width="0.95" fill="none" stroke-linejoin="round"/>
<path d="M162.1,332.8 L295.1,373.6 M166.8,398.1 L289.5,408.2 M531.6,324.2 L653.7,397.7 M521.1,392.8 L653.7,412.8" stroke="#474a54" stroke-width="1" fill="none"/>
<circle cx="302.7" cy="416.7" r="6.8" fill="#8ac58e" opacity="0.65"/>
<ellipse cx="672.9" cy="416.4" rx="6.7" ry="7.6" fill="#8ac58e" opacity="0.65"/>
<path d="M337,407.5 L314.1,420 L342,415.6 Z" fill="#4aab4e"/>
<rect x="336.6" y="393.5" width="55.5" height="22.100000000000023" rx="3" fill="#4aab4e"/>
<text x="364.35" y="407.35" font-size="7.8" font-weight="bold" font-style="italic" fill="#ffffff" stroke="#ffffff" stroke-width="0.25" text-anchor="middle" textLength="44.4" lengthAdjust="spacingAndGlyphs">Oversold = BUY</text>
<path d="M686,395.5 L674,416.5 L691,403.3 Z" fill="#4aab4e"/>
<rect x="685.7" y="381.7" width="55.799999999999955" height="21.600000000000023" rx="3" fill="#4aab4e"/>
<text x="713.6" y="395.3" font-size="7.8" font-weight="bold" font-style="italic" fill="#ffffff" stroke="#ffffff" stroke-width="0.25" text-anchor="middle" textLength="44.6" lengthAdjust="spacingAndGlyphs">Oversold = BUY</text>
<path d="M5.5,315.6 H767.5" stroke="#dcdde2" stroke-width="1.2" fill="none"/>
<rect x="767.5" y="0" width="32.5" height="450" fill="#ffffff"/>
<rect x="0" y="424.5" width="800" height="25.5" fill="#ffffff"/>
<path d="M5.5,424.5 H797.4" stroke="#9a9da5" stroke-width="1.1" fill="none"/>
<path d="M767.3,0 V443" stroke="#a9acb4" stroke-width="1.1" fill="none"/>
<path d="M5.5,0 V443" stroke="#eceef2" stroke-width="1" fill="none"/>
<path d="M0,443 H800" stroke="#eceef2" stroke-width="1" fill="none"/>
<path d="M797.5,0 V443" stroke="#eceef2" stroke-width="1" fill="none"/>
<text x="80" y="435.9" font-size="8" fill="#2a2e39" text-anchor="middle" font-weight="bold" textLength="15" lengthAdjust="spacingAndGlyphs"  style="">2020</text>
<text x="172" y="435.9" font-size="8" fill="#2a2e39" text-anchor="middle" font-weight="bold" textLength="15" lengthAdjust="spacingAndGlyphs"  style="">2021</text>
<text x="263.6" y="435.9" font-size="8" fill="#2a2e39" text-anchor="middle" font-weight="bold" textLength="15" lengthAdjust="spacingAndGlyphs"  style="">2022</text>
<text x="355.5" y="435.9" font-size="8" fill="#2a2e39" text-anchor="middle" font-weight="bold" textLength="15" lengthAdjust="spacingAndGlyphs"  style="">2023</text>
<text x="447.2" y="435.9" font-size="8" fill="#2a2e39" text-anchor="middle" font-weight="bold" textLength="15" lengthAdjust="spacingAndGlyphs"  style="">2024</text>
<text x="541" y="435.9" font-size="8" fill="#2a2e39" text-anchor="middle" font-weight="bold" textLength="15" lengthAdjust="spacingAndGlyphs"  style="">2025</text>
<text x="632.4" y="435.9" font-size="8" fill="#2a2e39" text-anchor="middle" font-weight="bold" textLength="15" lengthAdjust="spacingAndGlyphs"  style="">2026</text>
<text x="724" y="435.9" font-size="8" fill="#2a2e39" text-anchor="middle" font-weight="bold" textLength="15" lengthAdjust="spacingAndGlyphs"  style="">2027</text>
<text x="32.5" y="435.9" font-size="8" fill="#4a4e59" text-anchor="middle" font-weight="normal" textLength="9" lengthAdjust="spacingAndGlyphs"  style="">Jul</text>
<text x="126" y="435.9" font-size="8" fill="#4a4e59" text-anchor="middle" font-weight="normal" textLength="9" lengthAdjust="spacingAndGlyphs"  style="">Jul</text>
<text x="218" y="435.9" font-size="8" fill="#4a4e59" text-anchor="middle" font-weight="normal" textLength="9" lengthAdjust="spacingAndGlyphs"  style="">Jul</text>
<text x="309" y="435.9" font-size="8" fill="#4a4e59" text-anchor="middle" font-weight="normal" textLength="9" lengthAdjust="spacingAndGlyphs"  style="">Jul</text>
<text x="401" y="435.9" font-size="8" fill="#4a4e59" text-anchor="middle" font-weight="normal" textLength="9" lengthAdjust="spacingAndGlyphs"  style="">Jul</text>
<text x="492.6" y="435.9" font-size="8" fill="#4a4e59" text-anchor="middle" font-weight="normal" textLength="9" lengthAdjust="spacingAndGlyphs"  style="">Jul</text>
<text x="587" y="435.9" font-size="8" fill="#4a4e59" text-anchor="middle" font-weight="normal" textLength="9" lengthAdjust="spacingAndGlyphs"  style="">Jul</text>
<text x="678.4" y="435.9" font-size="8" fill="#4a4e59" text-anchor="middle" font-weight="normal" textLength="9" lengthAdjust="spacingAndGlyphs"  style="">Jul</text>
<text x="772" y="29.0" font-size="8.5" fill="#3a3d46" text-anchor="start" font-weight="normal" textLength="18.5" lengthAdjust="spacingAndGlyphs"  style="">5.0000</text>
<text x="772" y="55.3" font-size="8.5" fill="#3a3d46" text-anchor="start" font-weight="normal" textLength="18.5" lengthAdjust="spacingAndGlyphs"  style="">3.5000</text>
<text x="772" y="80.8" font-size="8.5" fill="#3a3d46" text-anchor="start" font-weight="normal" textLength="18.5" lengthAdjust="spacingAndGlyphs"  style="">2.5000</text>
<text x="772" y="128.3" font-size="8.5" fill="#3a3d46" text-anchor="start" font-weight="normal" textLength="18.5" lengthAdjust="spacingAndGlyphs"  style="">1.3000</text>
<text x="772" y="155.60000000000002" font-size="8.5" fill="#3a3d46" text-anchor="start" font-weight="normal" textLength="18.5" lengthAdjust="spacingAndGlyphs"  style="">0.9000</text>
<text x="772" y="180.3" font-size="8.5" fill="#3a3d46" text-anchor="start" font-weight="normal" textLength="18.5" lengthAdjust="spacingAndGlyphs"  style="">0.6500</text>
<text x="772" y="206.8" font-size="8.5" fill="#3a3d46" text-anchor="start" font-weight="normal" textLength="18.5" lengthAdjust="spacingAndGlyphs"  style="">0.4500</text>
<text x="772" y="237.10000000000002" font-size="8.5" fill="#3a3d46" text-anchor="start" font-weight="normal" textLength="18.5" lengthAdjust="spacingAndGlyphs"  style="">0.3000</text>
<text x="772" y="260.3" font-size="8.5" fill="#3a3d46" text-anchor="start" font-weight="normal" textLength="18.5" lengthAdjust="spacingAndGlyphs"  style="">0.2200</text>
<text x="772" y="283.8" font-size="8.5" fill="#3a3d46" text-anchor="start" font-weight="normal" textLength="18.5" lengthAdjust="spacingAndGlyphs"  style="">0.1600</text>
<text x="772" y="304.8" font-size="8.5" fill="#3a3d46" text-anchor="start" font-weight="normal" textLength="18.5" lengthAdjust="spacingAndGlyphs"  style="">0.1200</text>
<text x="772" y="345.8" font-size="8.5" fill="#3a3d46" text-anchor="start" font-weight="normal" textLength="15.5" lengthAdjust="spacingAndGlyphs"  style="">80.00</text>
<text x="772" y="375.8" font-size="8.5" fill="#3a3d46" text-anchor="start" font-weight="normal" textLength="15.5" lengthAdjust="spacingAndGlyphs"  style="">60.00</text>
<text x="772" y="405.8" font-size="8.5" fill="#3a3d46" text-anchor="start" font-weight="normal" textLength="15.5" lengthAdjust="spacingAndGlyphs"  style="">40.00</text>
<rect x="769.5" y="-2" width="26" height="20" rx="2.5" fill="#ffffff" stroke="#eceef2" stroke-width="0.8"/>
<text x="780" y="12" font-size="8.5" fill="#1e222d" text-anchor="middle" font-weight="normal" textLength="11.6" lengthAdjust="spacingAndGlyphs"  style="">USD</text>
<rect x="742" y="82.5" width="25.5" height="10.5" fill="#e5303f"/>
<text x="754.7" y="91" font-size="8" fill="#ffffff" text-anchor="middle" font-weight="normal" textLength="21" lengthAdjust="spacingAndGlyphs" stroke="#fff" stroke-width="0.25" style="">XRPUSD</text>
<rect x="767.5" y="82.5" width="25.1" height="19.2" fill="#e5303f"/>
<text x="780" y="91" font-size="8.5" fill="#ffffff" text-anchor="middle" font-weight="normal" textLength="18.5" lengthAdjust="spacingAndGlyphs" stroke="#fff" stroke-width="0.25" style="">2.2013</text>
<text x="780" y="100" font-size="8.5" fill="#ffffff" text-anchor="middle" font-weight="normal" textLength="18" lengthAdjust="spacingAndGlyphs" stroke="#fff" stroke-width="0.25" style="">2d 14h</text>
<text x="10" y="12.3" font-size="10" fill="#50535e" textLength="95" lengthAdjust="spacingAndGlyphs">XRP / U.S. Dollar · 1W · CRYPTO</text>
<text x="110.7" y="12.3" font-size="10" fill="#50535e" textLength="22.3" lengthAdjust="spacingAndGlyphs">O<tspan fill="#e0505c">2.5262</tspan></text>
<text x="138" y="12.3" font-size="10" fill="#50535e" textLength="24.2" lengthAdjust="spacingAndGlyphs">H<tspan fill="#e0505c">2.5321</tspan></text>
<text x="166.5" y="12.3" font-size="10" fill="#50535e" textLength="23.5" lengthAdjust="spacingAndGlyphs">L<tspan fill="#e0505c">2.0689</tspan></text>
<text x="194.5" y="12.3" font-size="10" fill="#50535e" textLength="23.1" lengthAdjust="spacingAndGlyphs">C<tspan fill="#e0505c">2.2013</tspan></text>
<text x="223" y="12.3" font-size="10" fill="#e0505c" textLength="53.2" lengthAdjust="spacingAndGlyphs">−0.3248 (−12.86%)</text>
</svg></body></html>
